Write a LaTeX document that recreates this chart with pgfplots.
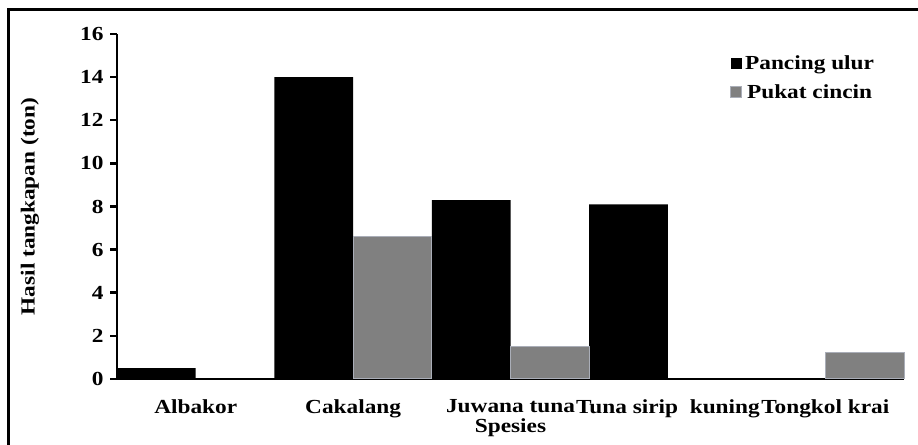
\documentclass[border=0pt]{standalone}
\usepackage{fontspec}
\setmainfont{Liberation Serif}[FakeStretch=1.17]
\usepackage{pgfplots}
\pgfplotsset{compat=1.18}
\definecolor{barblack}{RGB}{0,0,0}
\definecolor{bargray}{RGB}{128,128,128}
\definecolor{bargrayedge}{RGB}{170,174,184}
\begin{document}
\begin{tikzpicture}[x=1bp,y=1bp,font=\fontsize{20}{23}\selectfont\bfseries]
\useasboundingbox (0,0) rectangle (918,445);
\draw[line width=3bp] (8,-2) -- (8,435) -- (920,435);
\begin{axis}[
  at={(117bp,66bp)}, anchor=south west,
  scale only axis, width=787bp, height=345bp,
  xmin=0, xmax=5, ymin=0, ymax=16,
  ytick={0,2,...,16},
  xtick={0.5,1.5,2.5,3.5,4.5},
  xticklabels={Albakor,Cakalang,Juwana tuna,Tuna sirip\ \ kuning,Tongkol krai},
  x tick style={draw=none},
  extra x ticks={0,1,2,3,4,5},
  extra x tick labels={},
  extra x tick style={tick style={draw=black, line width=2.5bp}, major tick length=7bp},
  axis lines*=left,
  every outer x axis line/.append style={-},
  every outer y axis line/.append style={-},
  axis line style={line width=2.5bp, -},
  tick align=outside,
  major tick length=7bp,
  y tick style={line width=2.5bp, black},
  /pgf/number format/assume math mode=true,
  yticklabel style={xshift=-3bp},
  xticklabel style={yshift=-10bp},
  ylabel={Hasil tangkapan (ton)},
  ylabel style={at={(axis description cs:-0.1105,0.5)}, anchor=center},
  xlabel={Spesies},
  xlabel style={at={(axis description cs:0.5,-0.14)}, anchor=center},
  ybar, bar width=0.5, bar shift=0pt,
  legend style={at={(axis description cs:0.775,0.95)}, anchor=north west, draw=none, fill=none,
    row sep=10bp, font=\fontsize{20}{23}\selectfont\bfseries},
  legend image code/.code={\fill[#1] (0bp,-5.5bp) rectangle (11bp,5.5bp); \path (12bp,0bp);},
  clip=false,
]
\addplot[fill=barblack, draw=none] coordinates {(0.25,0.5) (1.25,14.0) (2.25,8.3) (3.25,8.1)};
\addlegendentry{Pancing ulur}
\addplot[fill=bargray, draw=bargrayedge, line width=1bp] coordinates {(1.75,6.6) (2.75,1.5) (4.75,1.25)};
\addlegendentry{Pukat cincin}
\end{axis}
\end{tikzpicture}
\end{document}
